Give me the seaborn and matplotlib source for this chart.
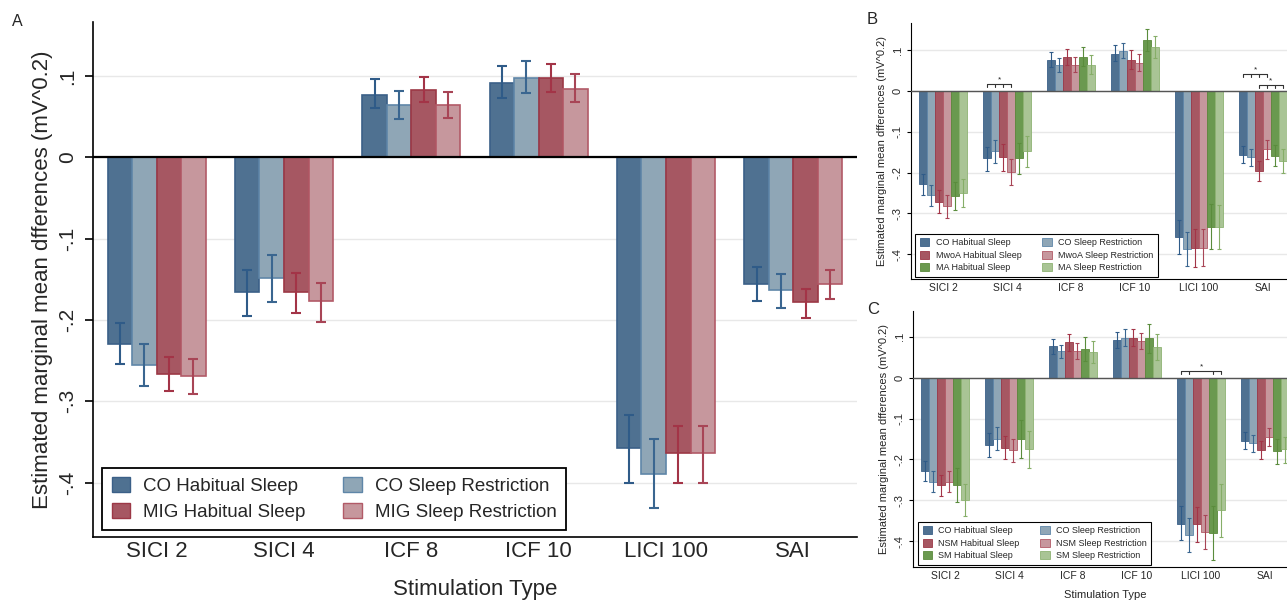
import numpy as np
import pandas as pd
import matplotlib.pyplot as plt
import seaborn as sns
from matplotlib.patches import Patch

# 1. Style and fonts
sns.set_style("white")
plt.rcParams["font.family"] = ["Liberation Sans", "DejaVu Sans"]

# 2. Data
stim = ["SICI 2", "SICI 4", "ICF 8", "ICF 10", "LICI 100", "SAI"]

groups_a = ["CO Habitual Sleep", "CO Sleep Restriction",
            "MIG Habitual Sleep", "MIG Sleep Restriction"]
mean_a = [[-0.229, -0.166, 0.077, 0.092, -0.358, -0.156],
          [-0.255, -0.148, 0.064, 0.098, -0.389, -0.163],
          [-0.266, -0.166, 0.083, 0.098, -0.364, -0.178],
          [-0.269, -0.177, 0.064, 0.084, -0.364, -0.156]]
lo_a = [[-0.254, -0.195, 0.061, 0.073, -0.401, -0.177],
        [-0.281, -0.178, 0.047, 0.079, -0.431, -0.185],
        [-0.288, -0.191, 0.068, 0.080, -0.401, -0.197],
        [-0.291, -0.202, 0.049, 0.068, -0.401, -0.174]]
hi_a = [[-0.204, -0.138, 0.096, 0.112, -0.317, -0.135],
        [-0.230, -0.120, 0.082, 0.118, -0.347, -0.143],
        [-0.245, -0.142, 0.099, 0.115, -0.330, -0.162],
        [-0.248, -0.154, 0.080, 0.103, -0.330, -0.138]]

groups_b = ["CO Habitual Sleep", "CO Sleep Restriction",
            "MwoA Habitual Sleep", "MwoA Sleep Restriction",
            "MA Habitual Sleep", "MA Sleep Restriction"]
mean_b = [[-0.228, -0.164, 0.077, 0.092, -0.357, -0.156],
          [-0.255, -0.148, 0.063, 0.098, -0.388, -0.162],
          [-0.271, -0.161, 0.084, 0.077, -0.385, -0.197],
          [-0.282, -0.199, 0.065, 0.070, -0.384, -0.142],
          [-0.257, -0.164, 0.084, 0.125, -0.334, -0.159],
          [-0.251, -0.148, 0.065, 0.108, -0.334, -0.172]]
lo_b = [[-0.254, -0.195, 0.059, 0.073, -0.400, -0.177],
        [-0.281, -0.177, 0.047, 0.080, -0.430, -0.184],
        [-0.298, -0.195, 0.063, 0.054, -0.431, -0.220],
        [-0.311, -0.230, 0.047, 0.050, -0.430, -0.167],
        [-0.291, -0.203, 0.061, 0.098, -0.388, -0.185],
        [-0.285, -0.187, 0.041, 0.082, -0.388, -0.200]]
hi_b = [[-0.203, -0.136, 0.095, 0.112, -0.316, -0.134],
        [-0.230, -0.120, 0.081, 0.118, -0.345, -0.141],
        [-0.243, -0.130, 0.104, 0.100, -0.339, -0.172],
        [-0.254, -0.166, 0.084, 0.092, -0.339, -0.120],
        [-0.223, -0.128, 0.107, 0.152, -0.277, -0.133],
        [-0.216, -0.110, 0.089, 0.134, -0.279, -0.142]]

groups_c = ["CO Habitual Sleep", "CO Sleep Restriction",
            "NSM Habitual Sleep", "NSM Sleep Restriction",
            "SM Habitual Sleep", "SM Sleep Restriction"]
mean_c = [[-0.228, -0.164, 0.077, 0.092, -0.357, -0.154],
          [-0.254, -0.150, 0.065, 0.098, -0.385, -0.160],
          [-0.263, -0.172, 0.088, 0.098, -0.359, -0.176],
          [-0.254, -0.178, 0.065, 0.090, -0.378, -0.144],
          [-0.262, -0.150, 0.070, 0.096, -0.380, -0.180],
          [-0.300, -0.175, 0.063, 0.074, -0.324, -0.175]]
lo_c = [[-0.253, -0.193, 0.059, 0.073, -0.398, -0.175],
        [-0.280, -0.177, 0.047, 0.078, -0.427, -0.183],
        [-0.290, -0.199, 0.066, 0.077, -0.401, -0.198],
        [-0.280, -0.207, 0.046, 0.071, -0.420, -0.167],
        [-0.303, -0.197, 0.040, 0.061, -0.445, -0.211],
        [-0.339, -0.220, 0.036, 0.043, -0.389, -0.209]]
hi_c = [[-0.204, -0.136, 0.094, 0.111, -0.315, -0.133],
        [-0.228, -0.120, 0.081, 0.118, -0.343, -0.140],
        [-0.237, -0.142, 0.107, 0.119, -0.316, -0.154],
        [-0.228, -0.150, 0.084, 0.110, -0.337, -0.122],
        [-0.221, -0.103, 0.100, 0.130, -0.313, -0.149],
        [-0.259, -0.131, 0.089, 0.106, -0.260, -0.144]]

# significance brackets: (stimulation, bars joined, height)
brackets_b = [("SICI 4", [0, 1, 2, 3], 0.018),
              ("SAI", [0, 1, 2, 3], 0.041),
              ("SAI", [2, 3, 4, 5], 0.014)]
brackets_c = [("LICI 100", [0, 1, 4, 5], 0.017)]

yticks = [-0.4, -0.3, -0.2, -0.1, 0, 0.1]
ytick_labels = ["-.4", "-.3", "-.2", "-.1", "0", ".1"]
ylab = "Estimated marginal mean dfferences (mV^0.2)"

fills = ["#4f7191", "#8fa6b6", "#a65762", "#c6979d", "#6a994f", "#a9c495"]
edges = ["#3b6088", "#5f86a8", "#9c3846", "#b25a67", "#5b8a3c", "#8eb373"]
errs = ["#2f5b88", "#3a6690", "#a33447", "#a84556", "#5a8c3c", "#86ae68"]


# 3. One panel of grouped bars with CI whiskers
def draw_panel(ax, groups, mean, lo, hi, width, edge_lw, err_lw, cap,
               fs_x, fs_y, fs_lab, ylim, zero_color, zero_lw, spine_lw):
    n = len(groups)
    df = pd.DataFrame({
        "stim": np.tile(stim, n),
        "group": np.repeat(groups, len(stim)),
        "value": np.ravel(mean),
    })
    sns.barplot(data=df, x="stim", y="value", hue="group", order=stim,
                hue_order=groups, palette=fills[:n], saturation=1,
                width=width, errorbar=None, linewidth=edge_lw,
                legend=False, ax=ax)
    bar_sets = list(ax.containers)
    centers = []
    for i, bars in enumerate(bar_sets):
        xs = []
        for b in bars:
            b.set_edgecolor(edges[i])
            xs.append(b.get_x() + b.get_width() / 2)
        centers.append(xs)
        m = np.array(mean[i])
        l = np.array(lo[i])
        h = np.array(hi[i])
        ax.errorbar(xs, m, yerr=[m - l, h - m], fmt="none", ecolor=errs[i],
                    elinewidth=err_lw, capsize=cap, capthick=err_lw, zorder=4)

    ax.axhline(0, color=zero_color, lw=zero_lw, zorder=3)
    ax.set_xlim(-0.5, len(stim) - 0.5)
    ax.set_ylim(*ylim)
    ax.set_yticks(yticks)
    ax.set_yticklabels(ytick_labels, rotation=90, va="center", fontsize=fs_y)
    ax.yaxis.grid(True, color="#e8e8e8", lw=1)
    ax.set_axisbelow(True)
    ax.tick_params(axis="x", length=0, pad=3, labelsize=fs_x)
    ax.tick_params(axis="y", left=True, length=fs_y * 0.4, width=spine_lw,
                   pad=fs_y * 0.35, color="black")
    for s in ["top", "right"]:
        ax.spines[s].set_visible(False)
    for s in ["left", "bottom"]:
        ax.spines[s].set_color("black")
        ax.spines[s].set_linewidth(spine_lw)
    ax.set_ylabel(ylab, fontsize=fs_lab)
    ax.set_xlabel("")
    return centers


def add_legend(ax, groups, fs, x0, y0, hl, hh, lw, colsp):
    n = len(groups)
    handles = [Patch(facecolor=fills[i], edgecolor=edges[i], lw=lw) for i in range(n)]
    # row-wise: habitual sleep in first column, restriction in second
    order = list(range(0, n, 2)) + list(range(1, n, 2))
    leg = ax.legend([handles[i] for i in order], [groups[i] for i in order],
                    ncol=2, loc="lower left", bbox_to_anchor=(x0, y0),
                    borderaxespad=0, fontsize=fs, frameon=True, fancybox=False,
                    edgecolor="black", framealpha=1, handlelength=hl,
                    handleheight=hh, handletextpad=0.7, columnspacing=colsp,
                    labelspacing=0.4, borderpad=0.5)
    leg.get_frame().set_linewidth(lw * 1.3)
    return leg


def add_brackets(ax, centers, brackets, tick, fs):
    for cat, idx, y in brackets:
        k = stim.index(cat)
        xs = [centers[i][k] for i in idx]
        ax.plot([xs[0], xs[-1]], [y, y], color="#333333", lw=0.8, zorder=5)
        for x in xs:
            ax.plot([x, x], [y, y - tick], color="#333333", lw=0.8, zorder=5)
        ax.text((xs[0] + xs[-1]) / 2, y + tick * 0.2, "*", ha="center",
                va="bottom", fontsize=fs, color="#222222")


# 4. Figure layout
fig = plt.figure(figsize=(12.87, 6.0), dpi=100)
ax_a = fig.add_axes([93 / 1287, 1 - 537 / 600, 764 / 1287, 515 / 600])
ax_b = fig.add_axes([911 / 1287, 1 - 279 / 600, 384 / 1287, 256 / 600])
ax_c = fig.add_axes([913 / 1287, 1 - 567 / 600, 384 / 1287, 256 / 600])

draw_panel(ax_a, groups_a, mean_a, lo_a, hi_a, 0.77, 1.2, 1.5, 3.4,
           16, 15, 16, (-0.467, 0.1665), "black", 1.6, 1.2)
ax_a.set_xlabel("Stimulation Type", fontsize=16, labelpad=12)
add_legend(ax_a, groups_a, 13.5, 0.012, 0.013, 1.0, 0.9, 1.0, 2.0)

cb = draw_panel(ax_b, groups_b, mean_b, lo_b, hi_b, 0.735, 0.6, 0.8, 1.6,
                7.5, 8, 8, (-0.461, 0.167), "#555555", 1.0, 0.8)
add_legend(ax_b, groups_b, 6.5, 0.011, 0.008, 1.05, 0.95, 0.6, 2.3)
add_brackets(ax_b, cb, brackets_b, 0.0075, 6)

cc = draw_panel(ax_c, groups_c, mean_c, lo_c, hi_c, 0.735, 0.6, 0.8, 1.6,
                7.5, 8, 8, (-0.463, 0.163), "#555555", 1.0, 0.8)
ax_c.set_xlabel("Stimulation Type", fontsize=8, labelpad=6)
add_legend(ax_c, groups_c, 6.5, 0.013, 0.008, 1.05, 0.95, 0.6, 2.3)
add_brackets(ax_c, cc, brackets_c, 0.0075, 6)

# 5. Panel letters
fig.text(12 / 1287, 1 - 14 / 600, "A", fontsize=11.5, va="top", ha="left")
fig.text(867 / 1287, 1 - 12 / 600, "B", fontsize=12, va="top", ha="left")
fig.text(867 / 1287, 1 - 302 / 600, "C", fontsize=12, va="top", ha="left")

fig.savefig("out.png", dpi=100, facecolor="white")
